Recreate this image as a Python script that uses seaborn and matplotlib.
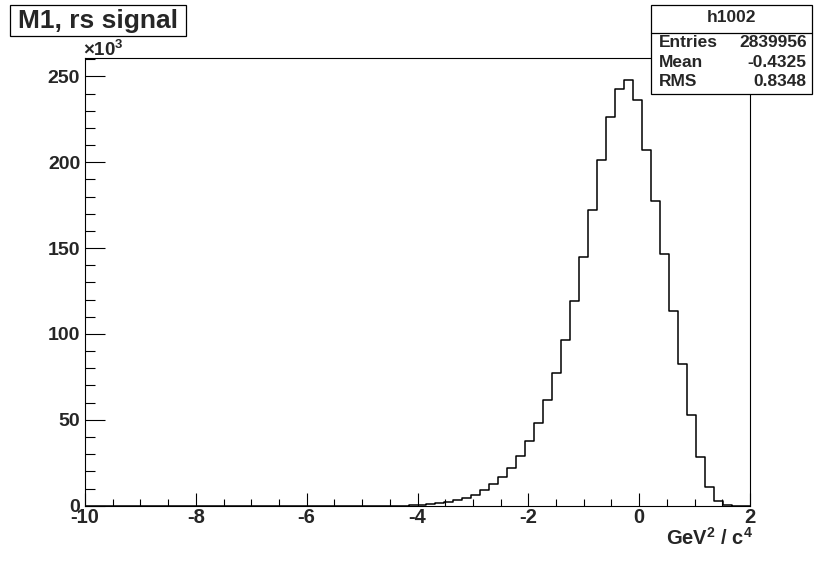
import numpy as np
import pandas as pd
import matplotlib
matplotlib.use("Agg")
import matplotlib.pyplot as plt
import seaborn as sns
from matplotlib.patches import Rectangle
from matplotlib.lines import Line2D
from matplotlib.ticker import MultipleLocator

# ---- data (bin contents in thousands) ----
x_min, x_max, n_bins = -10.0, 2.0, 74
first_bin = 34
counts_k = [0.05, 0.1, 0.3, 0.6, 1.0, 1.7, 2.3, 3.3, 4.3, 6.5, 9.0, 12.4, 16.5,
            21.8, 28.7, 37.6, 48.3, 61.3, 77.4, 96.6, 118.9, 144.6, 172.1,
            201.3, 226.3, 242.8, 248.1, 236.0, 207.3, 177.2, 146.7, 113.6,
            82.6, 53.0, 28.6, 11.1, 2.5, 0.4]
x_ticks = [-10, -8, -6, -4, -2, 0, 2]
y_ticks = [0, 50, 100, 150, 200, 250]
title = "M1, rs signal"
x_label = "GeV$^{2}$ / c$^{4}$"
stats_name = "h1002"
stats_rows = [("Entries", "2839956"), ("Mean", "-0.4325"), ("RMS", "0.8348")]

edges = np.linspace(x_min, x_max, n_bins + 1)
centers = 0.5 * (edges[:-1] + edges[1:])
contents = np.zeros(n_bins)
contents[first_bin:first_bin + len(counts_k)] = counts_k
df = pd.DataFrame({"x": centers, "w": contents})

sns.set_theme(style="ticks")
plt.rcParams["font.family"] = ["Liberation Sans", "DejaVu Sans"]
plt.rcParams["font.weight"] = "bold"
plt.rcParams["mathtext.fontset"] = "custom"
plt.rcParams["mathtext.rm"] = "Liberation Sans:bold"
plt.rcParams["mathtext.it"] = "Liberation Sans:bold"
plt.rcParams["mathtext.bf"] = "Liberation Sans:bold"
plt.rcParams["mathtext.default"] = "rm"

W, H = 814, 562
fig = plt.figure(figsize=(W / 100, H / 100), dpi=100)
fig.patch.set_facecolor("white")

L, R, T, B = 85, 750, 58.3, 505.7
ax = fig.add_axes([L / W, 1 - B / H, (R - L) / W, (B - T) / H])
ax.set_facecolor("white")

sns.histplot(data=df, x="x", weights="w", bins=n_bins, binrange=(x_min, x_max),
             element="step", fill=False, color="black", linewidth=1.1, ax=ax)

ax.set_xlim(x_min, x_max)
ax.set_ylim(0, 1.05 * max(counts_k))
ax.set_xticks(x_ticks)
ax.set_xticklabels([str(t) for t in x_ticks])
ax.set_yticks(y_ticks)
ax.set_yticklabels([str(t) for t in y_ticks])
ax.xaxis.set_minor_locator(MultipleLocator(0.5))
ax.yaxis.set_minor_locator(MultipleLocator(10))
ax.tick_params(axis="x", which="major", direction="in", length=9.4, width=0.8,
               labelsize=14.5, pad=1.5, top=False, color="black")
ax.tick_params(axis="x", which="minor", direction="in", length=4.7, width=0.8,
               top=False, color="black")
ax.tick_params(axis="y", which="major", direction="in", length=14.4, width=0.8,
               labelsize=14, pad=3.5, right=False, color="black")
ax.tick_params(axis="y", which="minor", direction="in", length=7.2, width=0.8,
               right=False, color="black")
for lab in ax.get_xticklabels() + ax.get_yticklabels():
    lab.set_fontweight("bold")
for s in ax.spines.values():
    s.set_visible(True)
    s.set_color("black")
    s.set_linewidth(0.8)

ax.set_ylabel("")
ax.set_xlabel("")
fig.text(753 / W, 1 - 545 / H, x_label, fontsize=14.5, fontweight="bold",
         ha="right", va="baseline")

# x10^3 multiplier
fig.text(83 / W, 1 - 56 / H, "×10$^{3}$", fontsize=13.5, fontweight="bold",
         ha="left", va="baseline")

# title box
fig.add_artist(Rectangle((10 / W, 1 - 36 / H), 176 / W, 31 / H,
                         transform=fig.transFigure, facecolor="white",
                         edgecolor="black", linewidth=0.9, zorder=5))
fig.text(98 / W, 1 - 21 / H, title, fontsize=19, fontweight="bold",
         ha="center", va="center", zorder=6)

# stats box
sx0, sx1, sy0, sy1 = 650.7, 811.7, 5, 94.3
fig.add_artist(Rectangle((sx0 / W, 1 - sy1 / H), (sx1 - sx0) / W, (sy1 - sy0) / H,
                         transform=fig.transFigure, facecolor="white",
                         edgecolor="black", linewidth=0.9, zorder=5))
fig.add_artist(Line2D([sx0 / W, sx1 / W], [1 - 32.7 / H, 1 - 32.7 / H],
                      transform=fig.transFigure, color="black", linewidth=0.9,
                      zorder=6))
fig.text((sx0 + sx1) / 2 / W, 1 - 18 / H, stats_name, fontsize=12.5,
         fontweight="bold", ha="center", va="center", zorder=7)
row_y = [42.5, 62.5, 81.5]
for (k, v), yy in zip(stats_rows, row_y):
    fig.text(659 / W, 1 - yy / H, k, fontsize=12.5, fontweight="bold",
             ha="left", va="center", zorder=7)
    fig.text(806.5 / W, 1 - yy / H, v, fontsize=12.5, fontweight="bold",
             ha="right", va="center", zorder=7)

fig.savefig("out.png", dpi=100, facecolor="white")
